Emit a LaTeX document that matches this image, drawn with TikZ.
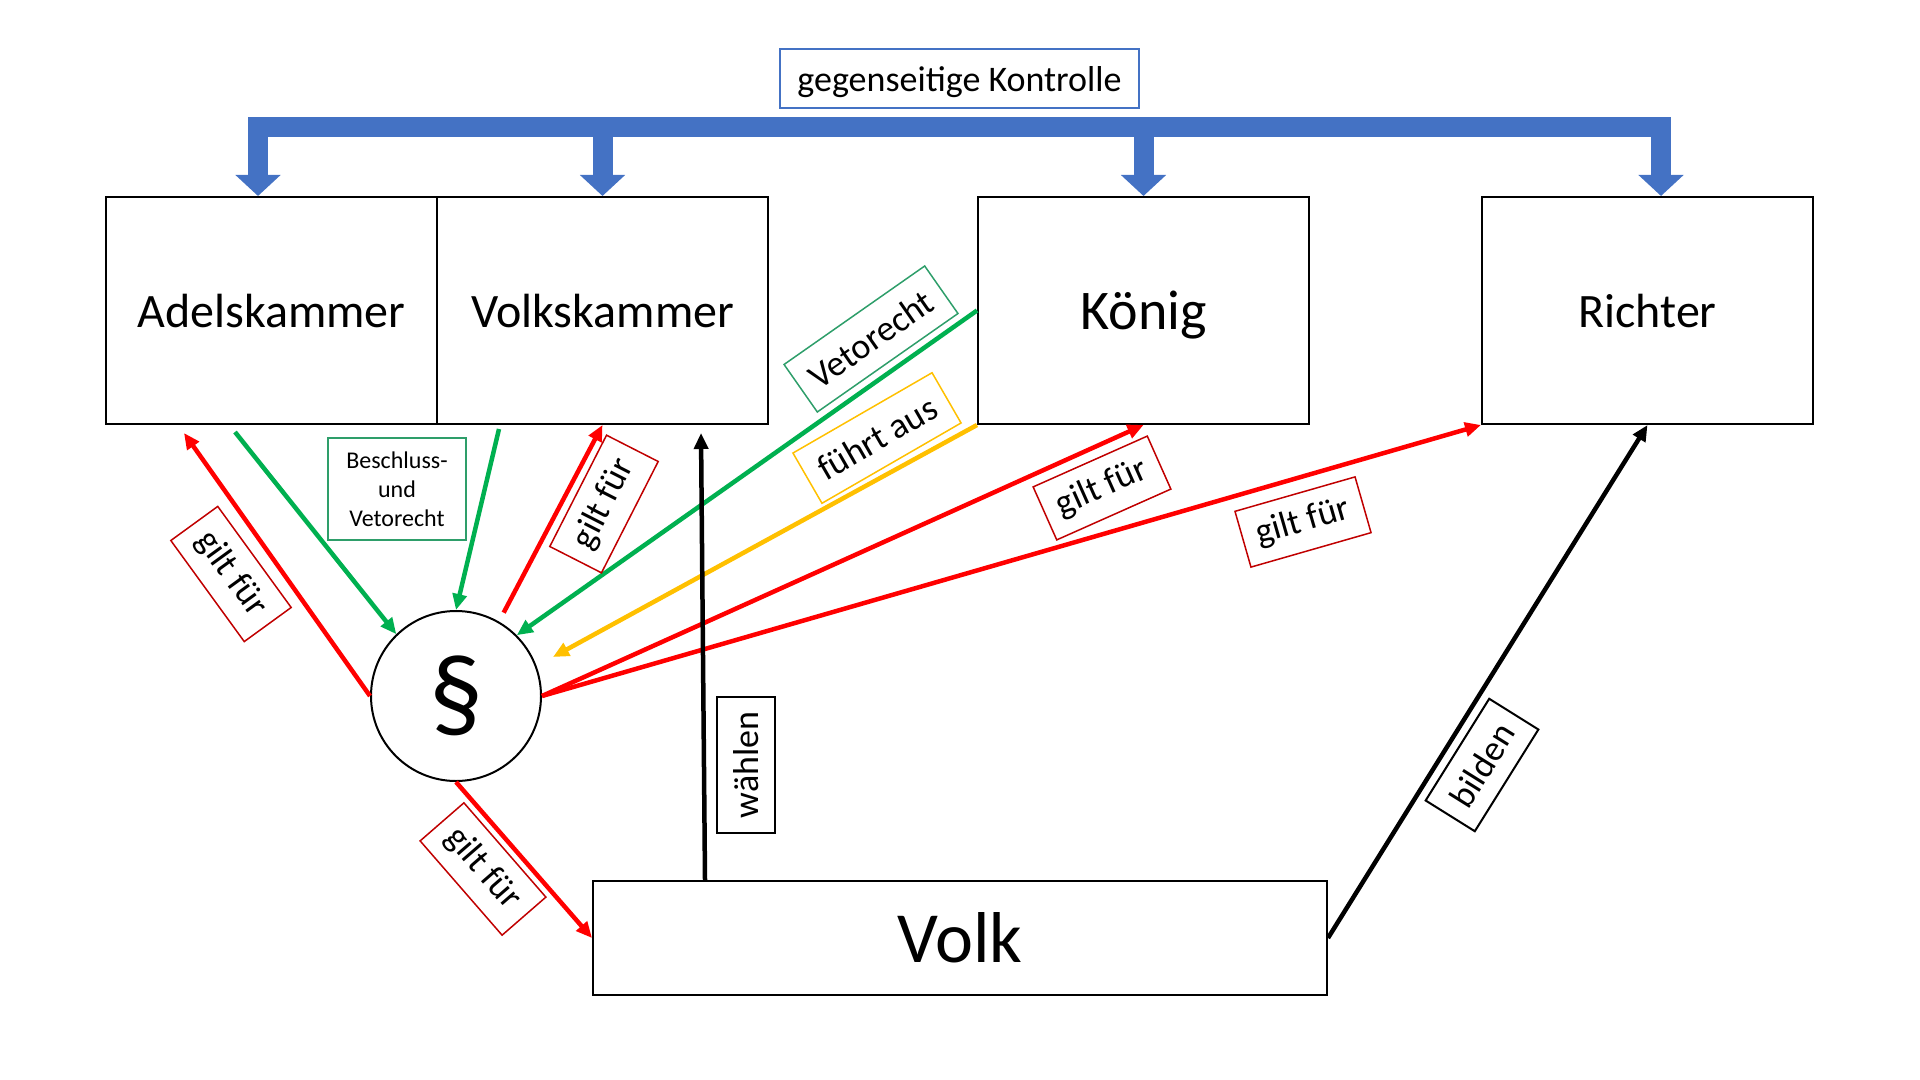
\documentclass[tikz,border=0pt]{standalone}
\usepackage{fontspec}
\setmainfont{Carlito}
\usetikzlibrary{arrows.meta,calc}
\definecolor{kblau}{HTML}{4472C4}
\definecolor{kgruen}{HTML}{00B050}
\definecolor{kgelb}{HTML}{FFC000}
\definecolor{krot}{HTML}{FF0000}
\definecolor{lrot}{HTML}{C00000}
\definecolor{lgruen}{HTML}{2E9E6A}
\tikzset{
  kasten/.style={draw, line width=1pt, minimum width=165.5pt, minimum height=113.5pt, inner sep=0pt, text height=16.6pt, text depth=0pt, font=\fontsize{24}{28.8}\selectfont},
  etikett/.style={draw, line width=0.75pt, inner xsep=7.2pt, inner ysep=0pt, minimum height=29pt, font=\fontsize{18}{21.6}\selectfont},
  pfeil/.style={line width=2.25pt, >={Triangle[length=8pt,width=7pt]}, ->},
  kpfeil/.style={kblau, line width=10pt, line join=miter, >={Triangle[length=10.5pt,width=22pt]}, ->},
}
\begin{document}
\begin{tikzpicture}[x=0.5pt, y=-0.5pt] % pixel raster, y nach unten
  \useasboundingbox (0,0) rectangle (1920,1080);
  \node[draw=kblau, line width=0.75pt, minimum width=179.5pt, minimum height=29.5pt, inner ysep=0pt, text height=13.5pt, text depth=0pt, font=\fontsize{18}{21.6}\selectfont] (kontrolle) at (959.5,78.5) {gegenseitige Kontrolle};
  \node[kasten] (adel) at (271.5,310.5) {Adelskammer};
  \node[kasten] (volkskammer) at (602.5,310.5) {Volkskammer};
  \node[kasten, text height=19.3pt, font=\fontsize{28}{33.6}\selectfont] (koenig) at (1143.5,310.5) {König};
  \node[kasten] (richter) at (1647.5,310.5) {Richter};
  \node[kasten, minimum width=367pt, minimum height=57pt, text height=24.8pt, font=\fontsize{36}{43.2}\selectfont] (volk) at (960,938) {Volk};
  \node[draw, circle, line width=1pt, minimum size=85pt, inner sep=0pt, font=\fontsize{54}{64.8}\selectfont] (para) at (456,696) {§};
  % gegenseitige Kontrolle
  \coordinate (kl) at (258,127);
  \coordinate (kr) at (1661,127);
  \draw[kpfeil, <->] (kl |- adel.north) |- (kr) -- (kr |- richter.north);
  \draw[kpfeil] (volkskammer.north |- kl) -- (volkskammer.north);
  \draw[kpfeil] (koenig.north |- kl) -- (koenig.north);
  % Gesetze
  \draw[pfeil, krot] (para.west) -- ($(adel.south west)+(79,8)$);
  \draw[pfeil, kgruen] ($(adel.south west)+(130,7)$) -- (para.134);
  \draw[pfeil, kgruen] ($(volkskammer.south west)+(63,4)$) -- (para.north);
  \draw[pfeil, krot, shorten <=5pt] (para.60) -- (volkskammer.south);
  \draw[pfeil, kgruen] (koenig.west) -- (para.45);
  \draw[pfeil, kgelb] (koenig.south west) -- ($(para.center)+(97,-39)$);
  \draw[pfeil, krot] (para.east) -- (koenig.south);
  \draw[pfeil, krot] (para.east) -- (richter.south west);
  \draw[pfeil, krot] (para.south) -- (volk.west);
  \draw[pfeil] ($(volk.north west)+(113,0)$) -- ($(volkskammer.south east)+(-68,8)$);
  \draw[pfeil] (volk.east) -- (richter.south);
  % Beschriftungen
  \node[draw=lgruen, line width=0.75pt, align=center, text width=54.6pt, minimum height=51pt, inner xsep=7.2pt, inner ysep=0pt, font=\fontsize{12}{14.4}\selectfont] (beschluss) at (397,489) {Beschluss-\\und\\Vetorecht};
  \node[etikett, draw=lrot, rotate=-54] (l_adel) at (231,574) {gilt für};
  \node[etikett, draw=lrot, rotate=63] (l_volkskammer) at (604,504) {gilt für};
  \node[etikett, draw=lgruen, rotate=35] (l_veto) at (871,339) {Vetorecht};
  \node[etikett, draw=kgelb, rotate=30] (l_fuehrt) at (877,438) {führt aus};
  \node[etikett, draw=lrot, rotate=24] (l_koenig) at (1102,488) {gilt für};
  \node[etikett, draw=lrot, rotate=16] (l_richter) at (1303,522) {gilt für};
  \node[etikett, line width=1pt, rotate=90] (l_waehlen) at (746,765) {wählen};
  \node[etikett, line width=1pt, rotate=58] (l_bilden) at (1482,765) {bilden};
  \node[etikett, draw=lrot, rotate=-49] (l_volk) at (483,869) {gilt für};
\end{tikzpicture}
\end{document}
